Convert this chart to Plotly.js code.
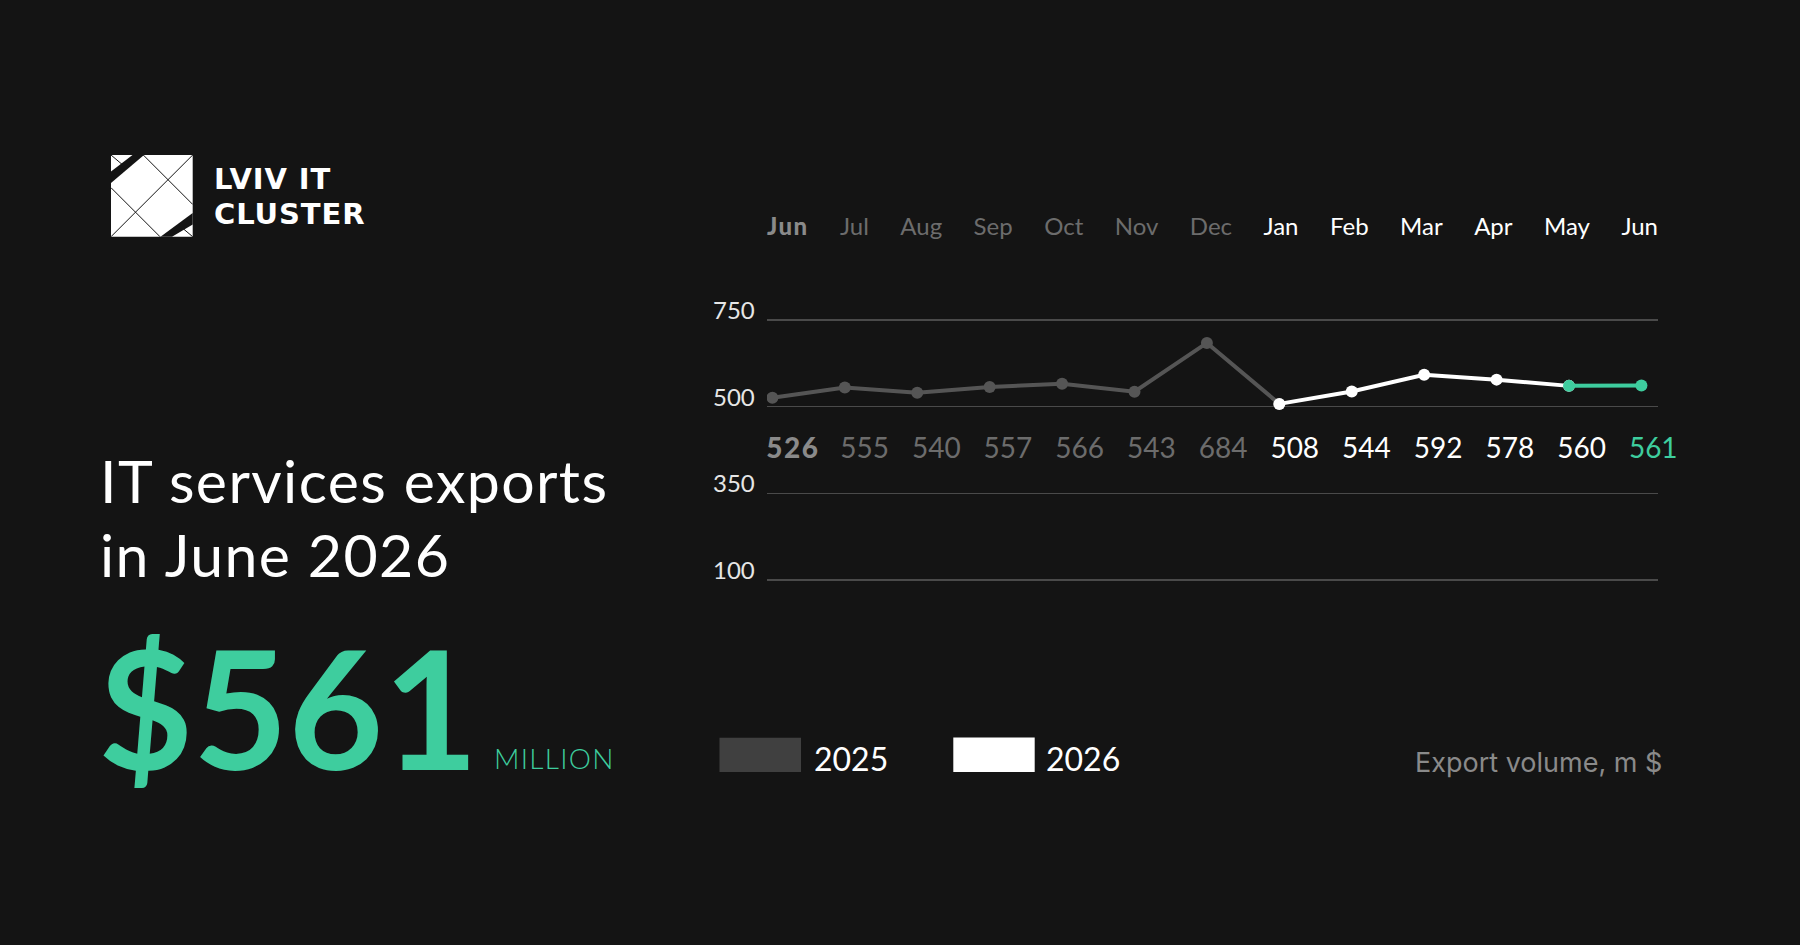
<!DOCTYPE html>
<html>
<head>
<meta charset="utf-8">
<script src="https://cdn.plot.ly/plotly-3.0.1.min.js"></script>
<style>
  html, body { margin: 0; padding: 0; background: #141414; }
  #chart { width: 1800px; height: 945px; }
</style>
</head>
<body>
<div id="chart"></div>
<script>
// ---- data ----
const months = ['Jun','Jul','Aug','Sep','Oct','Nov','Dec','Jan','Feb','Mar','Apr','May','Jun'];
const exports2025 = [526, 555, 540, 557, 566, 543, 684];   // Jun..Dec 2025
const exports2026 = [508, 544, 592, 578, 560, 561];        // Jan..Jun 2026
const yTickVals = [0, 250, 500, 750];
const yTickText = ['100', '350', '500', '750'];
const years = ['2025', '2026'];
const headline1 = 'IT services exports';
const headline2 = 'in June 2026';
const bigValue = '$561';
const unitText = 'MILLION';
const axisNote = 'Export volume, m $';

// ---- styles ----
const BG = '#141414';
const GREEN = '#3ecd9e';
const GREY_LINE = '#555555';
const GREY_TXT = '#6c6c6c';
const GREY_BOLD = '#8a8a8a';
const BOLD_SPACING = 1.5;

// plot area in pixels
const L = 767, R = 1658, T = 200, B = 600;
const W = R - L, H = B - T;
const px = x => (x - L) / W;
const py = y => (B - y) / H;

const n25 = exports2025.length;
const idx = months.map((m, i) => i);

// traces
const grey = {
  x: idx.slice(0, n25 + 1),
  y: exports2025.concat([exports2026[0]]),
  mode: 'lines+markers',
  line: { color: GREY_LINE, width: 4 },
  marker: { color: GREY_LINE, size: 12 },
  hoverinfo: 'skip', showlegend: false
};
const white = {
  x: idx.slice(n25, months.length - 1),
  y: exports2026.slice(0, exports2026.length - 1),
  mode: 'lines+markers',
  line: { color: '#ffffff', width: 4 },
  marker: { color: '#ffffff', size: 12 },
  hoverinfo: 'skip', showlegend: false
};
const green = {
  x: idx.slice(months.length - 2),
  y: exports2026.slice(exports2026.length - 2),
  mode: 'lines+markers',
  line: { color: GREEN, width: 4 },
  marker: { color: GREEN, size: 12 },
  hoverinfo: 'skip', showlegend: false
};

function labelColor(i, last) {
  if (i === 0) return GREY_BOLD;
  if (i < n25) return GREY_TXT;
  if (last && i === months.length - 1) return GREEN;
  return '#ffffff';
}
function heavy(t) { return '<span style="font-weight:900;letter-spacing:' + BOLD_SPACING + 'px">' + t + '</span>'; }

// month labels: spread with equal gaps between the words across the plot width
const MONTH_SIZE = 24;
const ctx = document.createElement('canvas').getContext('2d');
const mWidths = months.map((m, i) => {
  ctx.font = (i === 0 ? 'bold ' : '') + MONTH_SIZE + 'px Lato';
  return ctx.measureText(m).width + (i === 0 ? BOLD_SPACING * m.length : 0);
});
const gap = (W - mWidths.reduce((a, b) => a + b, 0)) / (months.length - 1);
const mCenters = [];
let cursor = L;
mWidths.forEach(w => { mCenters.push(cursor + w / 2); cursor += w + gap; });

const allValues = exports2025.concat(exports2026);
const monthText = {
  x: mCenters, y: idx.map(() => 1012),
  xaxis: 'x2',
  mode: 'text',
  text: months.map((m, i) => i === 0 ? heavy(m) : m),
  textposition: 'middle center',
  textfont: { family: 'Lato', size: MONTH_SIZE, color: idx.map(i => labelColor(i, false)) },
  cliponaxis: false, hoverinfo: 'skip', showlegend: false
};
const valueText = {
  x: idx, y: idx.map(() => 373),
  xaxis: 'x3',
  mode: 'text',
  text: allValues.map((v, i) => i === 0 ? heavy(v) : String(v)),
  textposition: 'middle center',
  textfont: { family: 'Lato', size: 28, color: idx.map(i => labelColor(i, true)) },
  cliponaxis: false, hoverinfo: 'skip', showlegend: false
};

// ---- decorations (logo, legend boxes) ----
function poly(pts) {
  return 'M ' + pts.map(p => px(p[0]) + ',' + py(p[1])).join(' L ') + ' Z';
}
function seg(x0, y0, x1, y1, color, w) {
  return { type: 'line', xref: 'paper', yref: 'paper', x0: px(x0), y0: py(y0), x1: px(x1), y1: py(y1),
           line: { color: color, width: w } };
}
const shapes = [
  // logo square
  { type: 'rect', xref: 'paper', yref: 'paper', x0: px(111), y0: py(236.7), x1: px(192.7), y1: py(155),
    fillcolor: '#ffffff', line: { width: 0 } },
  seg(192.7, 155, 111, 236.7, BG, 1),
  seg(143.3, 155, 192.7, 204.4, BG, 1),
  seg(111, 187.7, 160, 236.7, BG, 1),
  seg(111, 155, 124, 166, BG, 1),
  seg(192.7, 236.7, 180, 226, BG, 1),
  { type: 'path', xref: 'paper', yref: 'paper', path: poly([[132.5,155],[144,155],[111,183],[111,171.5]]),
    fillcolor: BG, line: { width: 0 } },
  { type: 'path', xref: 'paper', yref: 'paper', path: poly([[192.7,213],[192.7,224.5],[172,236.7],[160.5,236.7]]),
    fillcolor: BG, line: { width: 0 } },
  // legend boxes
  { type: 'rect', xref: 'paper', yref: 'paper', x0: px(719.5), y0: py(772), x1: px(801), y1: py(737.7),
    fillcolor: '#404040', line: { width: 0 } },
  { type: 'rect', xref: 'paper', yref: 'paper', x0: px(953.3), y0: py(772), x1: px(1034.7), y1: py(737.5),
    fillcolor: '#ffffff', line: { width: 0 } }
];

function ann(text, x, y, font, xanchor) {
  return { text: text, xref: 'paper', yref: 'paper', x: px(x), y: py(y),
           xanchor: xanchor || 'left', yanchor: 'middle', showarrow: false, font: font, align: 'left' };
}
function spaced(t, s) { return '<span style="letter-spacing:' + s + 'px">' + t + '</span>'; }

const annotations = [
  ann(spaced('LVIV IT', 0.9), 212, 179, { family: 'DejaVu Sans', size: 29, color: '#ffffff', weight: 700 }),
  ann(spaced('CLUSTER', 0.9), 212, 214, { family: 'DejaVu Sans', size: 29, color: '#ffffff', weight: 700 }),
  ann(spaced(headline1, 1.4), 98, 480, { family: 'Lato', size: 59, color: '#ffffff' }),
  ann(spaced(headline2, 1.4), 98, 554.5, { family: 'Lato', size: 59, color: '#ffffff' }),
  ann(bigValue, 96, 706, { family: 'Lato', size: 164, color: GREEN, weight: 700 }),
  ann(spaced(unitText, 1.3), 492, 758, { family: 'Lato', size: 28, color: GREEN, weight: 300 }),
  ann(years[0], 812, 758.5, { family: 'Lato', size: 32, color: '#ffffff' }),
  ann(years[1], 1044, 758.5, { family: 'Lato', size: 32, color: '#ffffff' }),
  ann(axisNote, 1664, 762, { family: 'Inter', size: 27, color: '#8a8a8a' }, 'right')
];
// y-axis labels sitting on top of their grid lines
yTickVals.forEach((v, i) => {
  annotations.push({ text: yTickText[i], xref: 'paper', yref: 'y', x: px(757), y: v,
    xanchor: 'right', yanchor: 'middle', yshift: 10.5, showarrow: false,
    font: { family: 'Lato', size: 24, color: '#e6e6e6' } });
});

const hiddenX = { showgrid: false, zeroline: false, showticklabels: false, showline: false, ticks: '' };

const layout = {
  width: 1800, height: 945,
  margin: { l: L, r: 1800 - R, t: T, b: 945 - B, pad: 0 },
  paper_bgcolor: BG, plot_bgcolor: BG,
  showlegend: false,
  font: { family: 'Lato', color: '#ffffff' },
  xaxis: Object.assign({ range: [-0.0746, 12.229] }, hiddenX),
  xaxis2: Object.assign({ range: [L, R], overlaying: 'x' }, hiddenX),
  xaxis3: Object.assign({ range: [-0.361, 12.066], overlaying: 'x' }, hiddenX),
  yaxis: {
    range: [-57.7, 1096.2],
    tickvals: yTickVals,
    showgrid: true, gridcolor: '#4a4a4a', gridwidth: 1.5,
    zeroline: false, showline: false, ticks: '', showticklabels: false
  },
  shapes: shapes,
  annotations: annotations
};

Plotly.newPlot('chart', [grey, white, green, monthText, valueText], layout, { displayModeBar: false, staticPlot: true });
</script>
</body>
</html>
